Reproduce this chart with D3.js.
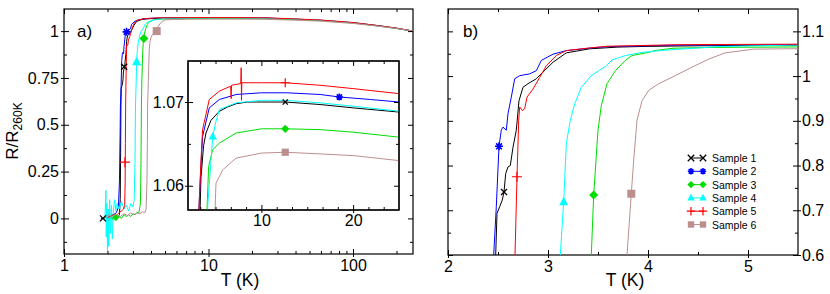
<!DOCTYPE html>
<html>
<head>
<meta charset="utf-8">
<script src="https://cdn.jsdelivr.net/npm/d3@7"></script>
<style>
body { margin: 0; background: #fff; }
svg { font-family: "Liberation Sans", Arial, sans-serif; }
</style>
</head>
<body>
<div id="chart"></div>
<script>
// samples, colours and marker types
var sampleNames = ["Sample 1", "Sample 2", "Sample 3", "Sample 4", "Sample 5", "Sample 6"];
var sampleColors = ["#000000", "#0000ff", "#00dd00", "#00ffff", "#ff0000", "#bc8f8f"];
var sampleSymbols = ["x", "star", "diamond", "triangle", "plus", "square"];

// [T (K), R/R260K]
var sample1 = [[1.80,0.0],[1.86,0.0],[1.95,0.004],[2.05,-0.004],[2.15,0.006],[2.25,0.0],[2.35,0.008],[2.42,0.02],[2.45,0.1],[2.465,0.35],[2.477,0.6],[2.49,0.693],[2.517,0.708],[2.543,0.723],[2.56,0.741],[2.577,0.782],[2.6,0.797],[2.623,0.8],[2.65,0.841],[2.683,0.879],[2.71,0.945],[2.75,0.975],[2.8,0.983],[2.883,0.994],[2.95,1.009],[3.05,1.031],[3.183,1.052],[3.417,1.061],[3.7,1.0648],[3.96,1.0663],[4.5,1.0678],[5.42,1.0689],[6.3,1.0694],[7.25,1.0698],[8.5,1.07],[10,1.07],[12.6,1.07],[16.4,1.0697],[20,1.0693],[25,1.0688],[40,1.063],[60,1.057],[100,1.044],[150,1.028],[200,1.015],[260,1.0]];
var sample2 = [[2.0,0.01],[2.1,0.015],[2.2,0.02],[2.3,0.03],[2.38,0.06],[2.42,0.2],[2.445,0.45],[2.457,0.6],[2.483,0.708],[2.51,0.843],[2.533,0.879],[2.55,0.886],[2.583,0.879],[2.6,0.916],[2.633,0.953],[2.667,0.994],[2.717,1.001],[2.817,1.005],[2.883,1.012],[2.933,1.035],[3.05,1.049],[3.183,1.057],[3.417,1.0625],[3.59,1.0659],[4.32,1.0693],[5.42,1.0703],[7.25,1.0709],[10,1.0711],[12.75,1.0711],[16.4,1.0709],[18.5,1.0706],[21.9,1.0703],[25,1.07],[40,1.064],[60,1.058],[100,1.045],[150,1.029],[200,1.015],[260,1.0]];
var sample3 = [[1.95,0.0],[2.0,0.02],[2.05,-0.015],[2.1,0.02],[2.15,-0.01],[2.2,0.015],[2.3,-0.01],[2.4,0.01],[2.5,0.0],[2.6,0.02],[2.7,0.01],[2.8,0.02],[2.9,0.01],[3.0,0.025],[3.1,0.02],[3.2,0.03],[3.3,0.03],[3.38,0.08],[3.41,0.3],[3.433,0.6],[3.457,0.734],[3.5,0.879],[3.533,0.934],[3.59,0.983],[3.673,1.012],[3.773,1.035],[3.84,1.046],[4.007,1.053],[4.07,1.0571],[4.25,1.0623],[4.69,1.0643],[5.42,1.0651],[7.25,1.0663],[10,1.0668],[12.6,1.0668],[16.4,1.0667],[20,1.0664],[25,1.0658],[40,1.061],[60,1.056],[100,1.043],[150,1.027],[200,1.014],[260,1.0]];
var sample4 = [[1.92,0.0],[1.95,0.15],[1.96,-0.1],[1.98,0.08],[2.0,-0.175],[2.02,0.05],[2.04,-0.15],[2.07,0.1],[2.1,-0.08],[2.13,0.07],[2.16,-0.11],[2.2,0.05],[2.24,0.1],[2.28,0.04],[2.33,0.08],[2.4,0.05],[2.5,0.09],[2.6,0.05],[2.7,0.07],[2.8,0.04],[2.9,0.08],[3.0,0.06],[3.06,0.1],[3.1,0.3],[3.123,0.6],[3.157,0.719],[3.183,0.849],[3.223,0.901],[3.267,0.938],[3.333,0.975],[3.433,1.001],[3.507,1.012],[3.583,1.023],[3.64,1.036],[3.773,1.046],[3.94,1.053],[4.173,1.058],[4.507,1.063],[4.7,1.0659],[5.05,1.0677],[5.42,1.0691],[7.25,1.0699],[10,1.0702],[12.6,1.0702],[16.4,1.0699],[20,1.0695],[25,1.0689],[40,1.0635],[60,1.0575],[100,1.0445],[150,1.028],[200,1.015],[260,1.0]];
var sample5 = [[2.0,0.005],[2.1,0.01],[2.2,0.02],[2.3,0.015],[2.4,0.03],[2.5,0.04],[2.58,0.05],[2.63,0.07],[2.65,0.2],[2.66,0.4],[2.67,0.6],[2.69,0.775],[2.707,0.901],[2.717,0.931],[2.743,0.923],[2.767,0.927],[2.79,0.953],[2.85,0.971],[2.917,0.997],[2.983,1.023],[3.083,1.046],[3.183,1.057],[3.417,1.063],[3.59,1.0667],[4.32,1.0703],[5.42,1.0713],[6.65,1.0719],[6.7,1.0704],[6.75,1.072],[7.25,1.0721],[7.75,1.0722],[7.8,1.0741],[7.83,1.0702],[7.87,1.0723],[10,1.0723],[12.6,1.0723],[16.4,1.072],[20,1.0716],[25,1.071],[40,1.065],[60,1.059],[100,1.046],[150,1.029],[200,1.016],[260,1.0]];
var sample6 = [[1.95,0.01],[2.05,0.02],[2.15,0.005],[2.3,0.02],[2.45,0.01],[2.6,0.025],[2.75,0.015],[2.9,0.03],[3.05,0.02],[3.2,0.03],[3.35,0.025],[3.5,0.035],[3.62,0.03],[3.7,0.05],[3.75,0.2],[3.775,0.4],[3.79,0.6],[3.833,0.737],[3.857,0.812],[3.89,0.901],[3.94,0.945],[4.007,0.968],[4.107,0.983],[4.273,1.001],[4.44,1.02],[4.607,1.038],[4.773,1.052],[4.95,1.0571],[5.05,1.0603],[5.79,1.0619],[7.25,1.0633],[10,1.0639],[12.6,1.064],[16.4,1.0638],[20,1.0636],[25,1.063],[40,1.058],[60,1.053],[100,1.041],[150,1.026],[200,1.014],[260,1.0]];
var samples = [sample1, sample2, sample3, sample4, sample5, sample6];

// marker positions [T, R] for each panel (one per sample)
var markMain = [[2.61,0.81],[2.71,0.996],[3.57,0.96],[3.18,0.836],[2.64,0.30],[4.38,1.0]];
var markMainExtra = [[0,1.86,0.0],[2,2.28,0.005]];
var markInset = [[12.6,1.07],[18.5,1.0706],[12.6,1.0668],[4.7,1.0659],[12.6,1.0723],[12.6,1.064]];
var markZoom = [[2.56,0.741],[2.51,0.843],[3.457,0.734],[3.157,0.719],[2.69,0.775],[3.833,0.737]];

// ticks
var mainXMajor = [1, 10, 100];
var mainXMinor = [2,3,4,5,6,7,8,9,20,30,40,50,60,70,80,90,200];
var mainYMajor = [0, 0.25, 0.5, 0.75, 1];
var mainYMinor = [-0.125, 0.125, 0.375, 0.625, 0.875];
var insetXMajor = [10, 20];
var insetXMinor = [3.33,5,6.67,8.33,11.67,13.33,15,16.67,18.33,21.67,23.33];
var insetYMajor = [1.06, 1.07];
var insetYMinor = [1.065];
var zoomXMajor = [2, 3, 4, 5];
var zoomXMinor = [2.5, 3.5, 4.5];
var zoomYMajor = [0.6, 0.7, 0.8, 0.9, 1, 1.1];
var zoomYMinor = [0.65, 0.75, 0.85, 0.95, 1.05];

var svgWidth = 830, svgHeight = 294;
var svg = d3.select("#chart").append("svg")
  .attr("width", svgWidth)
  .attr("height", svgHeight);

// scales
var xMain = d3.scaleLog().domain([1, 260]).range([64, 413]);
var yMain = d3.scaleLinear().domain([-0.19, 1.118]).range([254, 9]);
var xIn = d3.scaleLinear().domain([2, 25]).range([188, 399]);
var yIn = d3.scaleLinear().domain([1.0571, 1.0749]).range([210, 61]);
var xZ = d3.scaleLinear().domain([2, 5.5]).range([448, 798]);
var yZ = d3.scaleLinear().domain([0.6, 1.15]).range([255, 9]);

function addClip(id, xs, ys) {
  svg.append("clipPath").attr("id", id).append("rect")
    .attr("x", xs.range()[0]).attr("y", ys.range()[1])
    .attr("width", xs.range()[1] - xs.range()[0])
    .attr("height", ys.range()[0] - ys.range()[1]);
}

function drawMarker(g, type, x, y, r, color) {
  if (type == "x") {
    g.append("path").attr("d", "M" + (x-r) + "," + (y-r) + "L" + (x+r) + "," + (y+r) + "M" + (x-r) + "," + (y+r) + "L" + (x+r) + "," + (y-r))
      .attr("stroke", color).attr("stroke-width", 1.3).attr("fill", "none");
  } else if (type == "plus") {
    g.append("path").attr("d", "M" + (x-r-1) + "," + y + "L" + (x+r+1) + "," + y + "M" + x + "," + (y-r-1) + "L" + x + "," + (y+r+1))
      .attr("stroke", color).attr("stroke-width", 1.2).attr("fill", "none");
  } else if (type == "star") {
    var d = "", a = r * 0.72;
    d += "M" + (x-r) + "," + y + "L" + (x+r) + "," + y;
    d += "M" + x + "," + (y-r) + "L" + x + "," + (y+r);
    d += "M" + (x-a) + "," + (y-a) + "L" + (x+a) + "," + (y+a);
    d += "M" + (x-a) + "," + (y+a) + "L" + (x+a) + "," + (y-a);
    g.append("path").attr("d", d).attr("stroke", color).attr("stroke-width", 1.6).attr("fill", "none");
  } else if (type == "diamond") {
    g.append("path").attr("d", "M" + x + "," + (y-r-0.5) + "L" + (x+r+0.5) + "," + y + "L" + x + "," + (y+r+0.5) + "L" + (x-r-0.5) + "," + y + "Z")
      .attr("fill", color);
  } else if (type == "triangle") {
    g.append("path").attr("d", "M" + x + "," + (y-r-1) + "L" + (x+r+0.5) + "," + (y+r-0.5) + "L" + (x-r-0.5) + "," + (y+r-0.5) + "Z")
      .attr("fill", color);
  } else if (type == "square") {
    g.append("rect").attr("x", x-r).attr("y", y-r).attr("width", 2*r).attr("height", 2*r).attr("fill", color);
  }
}

// ticks on one side: inward majors/minors, optional outward majors with labels
function sideTicks(axisFn, scale, major, minor, tx, ty, labelled, pad) {
  var gi = svg.append("g").attr("transform", "translate(" + tx + "," + ty + ")")
    .call(axisFn(scale).tickValues(major).tickSize(-5).tickFormat(""));
  gi.select(".domain").remove();
  var gm = svg.append("g").attr("transform", "translate(" + tx + "," + ty + ")")
    .call(axisFn(scale).tickValues(minor).tickSize(-3).tickFormat(""));
  gm.select(".domain").remove();
  if (labelled) {
    var go = svg.append("g").attr("transform", "translate(" + tx + "," + ty + ")")
      .call(axisFn(scale).tickValues(major).tickSize(3).tickPadding(pad).tickFormat(function(d) { return String(d); }));
    go.select(".domain").remove();
    go.attr("font-family", null).attr("font-size", 16);
    go.selectAll("text").attr("fill", "#000");
  }
}

function drawCurves(clipId, xs, ys, marks, size) {
  var g = svg.append("g").attr("clip-path", "url(#" + clipId + ")");
  samples.forEach(function(data, i) {
    var line = d3.line().x(function(d) { return xs(d[0]); }).y(function(d) { return ys(d[1]); });
    g.append("path").datum(data)
      .attr("d", line)
      .attr("fill", "none")
      .attr("stroke", sampleColors[i])
      .attr("stroke-width", 1)
      .attr("stroke-linejoin", "round");
  });
  marks.forEach(function(m, i) {
    drawMarker(g, sampleSymbols[i], xs(m[0]), ys(m[1]), sampleSymbols[i] == "x" ? size - 1 : size, sampleColors[i]);
  });
  return g;
}

function frame(xs, ys, fill) {
  svg.append("rect")
    .attr("x", xs.range()[0]).attr("y", ys.range()[1])
    .attr("width", xs.range()[1] - xs.range()[0])
    .attr("height", ys.range()[0] - ys.range()[1])
    .attr("fill", fill).attr("stroke", "#000").attr("stroke-width", 1.2);
}

addClip("clipMain", xMain, yMain);
addClip("clipIn", xIn, yIn);
addClip("clipZ", xZ, yZ);

// ---- panel a) ----
frame(xMain, yMain, "none");
var gMain = drawCurves("clipMain", xMain, yMain, markMain, 4);
markMainExtra.forEach(function(m) {
  drawMarker(gMain, sampleSymbols[m[0]], xMain(m[1]), yMain(m[2]), 3, sampleColors[m[0]]);
});
sideTicks(d3.axisBottom, xMain, mainXMajor, mainXMinor, 0, yMain.range()[0], true, 3);
sideTicks(d3.axisTop, xMain, mainXMajor, mainXMinor, 0, yMain.range()[1], false);
sideTicks(d3.axisLeft, yMain, mainYMajor, mainYMinor, xMain.range()[0], 0, true, 2);
sideTicks(d3.axisRight, yMain, mainYMajor, mainYMinor, xMain.range()[1], 0, false);

// inset
frame(xIn, yIn, "#fff");
drawCurves("clipIn", xIn, yIn, markInset, 3.6);
sideTicks(d3.axisBottom, xIn, insetXMajor, insetXMinor, 0, yIn.range()[0], true, 2);
sideTicks(d3.axisTop, xIn, insetXMajor, insetXMinor, 0, yIn.range()[1], false);
sideTicks(d3.axisLeft, yIn, insetYMajor, insetYMinor, xIn.range()[0], 0, true, 1);
sideTicks(d3.axisRight, yIn, insetYMajor, insetYMinor, xIn.range()[1], 0, false);
frame(xIn, yIn, "none");

// ---- panel b) ----
frame(xZ, yZ, "none");
drawCurves("clipZ", xZ, yZ, markZoom, 4);
sideTicks(d3.axisBottom, xZ, zoomXMajor, zoomXMinor, 0, yZ.range()[0], true, 3);
sideTicks(d3.axisTop, xZ, zoomXMajor, zoomXMinor, 0, yZ.range()[1], false);
sideTicks(d3.axisRight, yZ, zoomYMajor, zoomYMinor, xZ.range()[1], 0, true, 1);
sideTicks(d3.axisLeft, yZ, zoomYMajor, zoomYMinor, xZ.range()[0], 0, false);

// legend
var legend = svg.append("g").attr("transform", "translate(689,158)");
sampleNames.forEach(function(name, i) {
  var row = legend.append("g").attr("transform", "translate(0," + (i * 13.3) + ")");
  row.append("line").attr("x1", 1).attr("x2", 15).attr("y1", 0).attr("y2", 0)
    .attr("stroke", sampleColors[i]).attr("stroke-width", 1);
  drawMarker(row, sampleSymbols[i], 2, 0, 3.2, sampleColors[i]);
  drawMarker(row, sampleSymbols[i], 14, 0, 3.2, sampleColors[i]);
  row.append("text").attr("x", 23).attr("y", 4).attr("font-size", 10.5).text(name);
});

// labels
svg.append("text").attr("x", 77).attr("y", 37).attr("font-size", 17).text("a)");
svg.append("text").attr("x", 463).attr("y", 37).attr("font-size", 17).text("b)");
svg.append("text").attr("x", 240).attr("y", 286).attr("font-size", 17.5).attr("text-anchor", "middle").text("T (K)");
svg.append("text").attr("x", 625).attr("y", 286).attr("font-size", 17.5).attr("text-anchor", "middle").text("T (K)");
var yl = svg.append("text")
  .attr("transform", "translate(18,131) rotate(-90)")
  .attr("text-anchor", "middle")
  .attr("font-size", 17);
yl.append("tspan").text("R/R");
yl.append("tspan").attr("font-size", 12).attr("dy", 4).text("260K");
</script>
</body>
</html>
